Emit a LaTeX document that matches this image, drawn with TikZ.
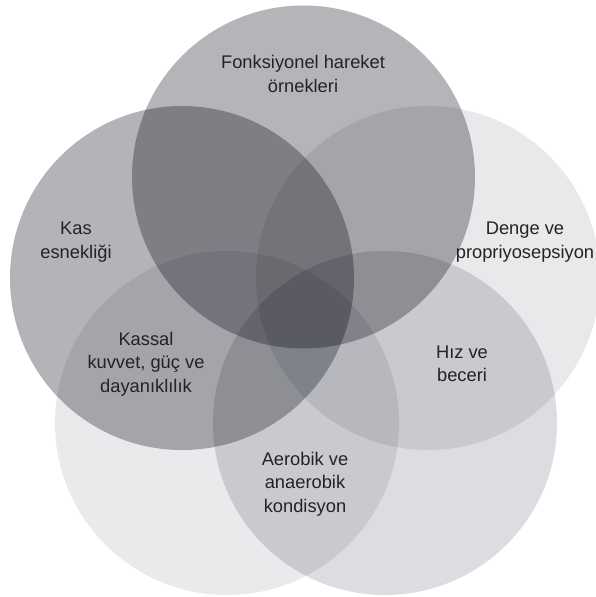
\documentclass[tikz,border=0pt]{standalone}
\usepackage{fontspec}
\setmainfont{Liberation Sans}
\definecolor{cTop}{RGB}{180,181,185}
\definecolor{cLeft}{RGB}{179,180,184}
\definecolor{cRight}{RGB}{233,233,235}
\definecolor{cBL}{RGB}{234,234,236}
\definecolor{cBR}{RGB}{220,221,224}
\definecolor{txt}{RGB}{35,35,35}
\begin{document}
\begin{tikzpicture}[x=1pt,y=-1pt,
  disc/.style={blend mode=multiply, draw=none},
  lbl/.style={align=center, text=txt, font=\fontsize{18.3}{23.5}\selectfont, inner sep=0pt}]
\useasboundingbox (0,0) rectangle (596,597);
\fill[white] (0,0) rectangle (596,597);
\begin{scope}[blend group=multiply]
\fill[disc, cTop] (303.5,177) circle (171.5);
\fill[disc, cLeft] (182,278) circle (172);
\fill[disc, cRight] (428,278) circle (172);
\fill[disc, cBL] (227,423) circle (172);
\fill[disc, cBR] (385,423) circle (172);
\end{scope}
\node[lbl] (fonk) at (303,74) {Fonksiyonel hareket\\örnekleri};
\node[lbl] (kas) at (76,242) {Kas\\esnekliği};
\node[lbl] (denge) at (525,242) {Denge ve\\propriyosepsiyon};
\node[lbl] (kassal) at (146,364) {Kassal\\kuvvet, güç ve\\dayanıklılık};
\node[lbl] (hiz) at (462,364) {Hız ve\\beceri};
\node[lbl] (aero) at (305,484) {Aerobik ve\\anaerobik\\kondisyon};
\end{tikzpicture}
\end{document}
